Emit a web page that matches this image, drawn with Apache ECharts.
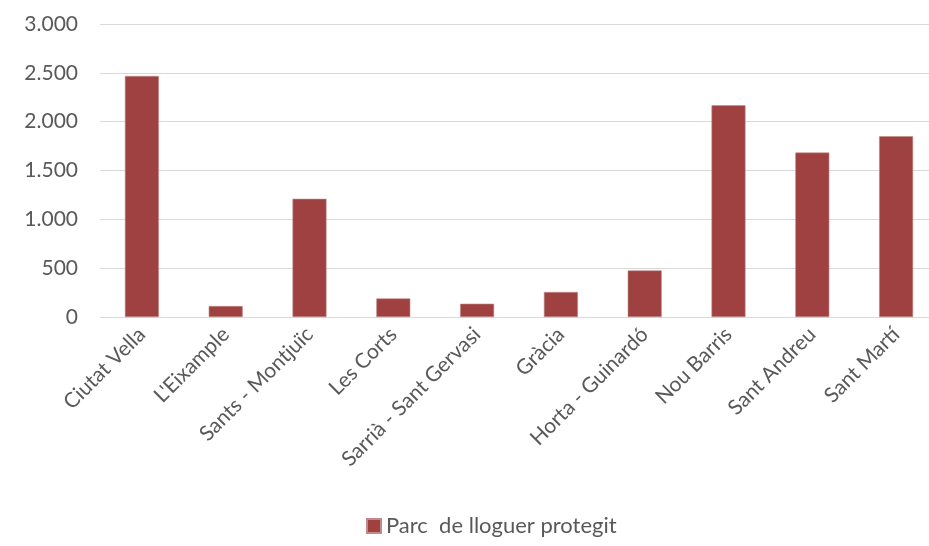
<!DOCTYPE html>
<html>
<head>
<meta charset="utf-8">
<script src="https://cdn.jsdelivr.net/npm/echarts@6/dist/echarts.min.js"></script>
<style>
  html, body { margin: 0; padding: 0; background: #fff; overflow: hidden; }
  #chart { width: 938px; height: 546px; }
</style>
</head>
<body>
<div id="chart"></div>
<script>
const districts = [
  'Ciutat Vella', "L'Eixample", 'Sants - Montjuïc', 'Les Corts', 'Sarrià - Sant Gervasi',
  'Gràcia', 'Horta - Guinardó', 'Nou Barris', 'Sant Andreu', 'Sant Martí'
]
const parcValues = [2468, 112, 1210, 190, 136, 256, 477, 2168, 1684, 1851]
const seriesName = 'Parc  de lloguer protegit'

const textColor = '#595959'
const gridColor = '#d9d9d9'
const barColor = '#9e4140'
const font = 'Lato, Liberation Sans, sans-serif'

const chart = echarts.init(document.getElementById('chart'))

const fmt = (v) => String(v).replace(/\B(?=(\d{3})+(?!\d))/g, '.')

chart.setOption({
  animation: false,
  textStyle: { fontFamily: font },
  grid: { left: 100, top: 24, right: 0, bottom: 229, containLabel: false },
  legend: {
    bottom: 4,
    left: 361,
    itemWidth: 14,
    itemHeight: 14,
    itemGap: 10,
    textStyle: { color: textColor, fontSize: 22, fontFamily: font },
    data: [{ name: seriesName, icon: 'rect' }]
  },
  xAxis: {
    type: 'category',
    data: districts,
    axisLine: { lineStyle: { color: gridColor, width: 1 } },
    axisTick: { show: false },
    axisLabel: {
      rotate: 45,
      interval: 0,
      color: textColor,
      fontSize: 21,
      margin: 14
    }
  },
  yAxis: {
    type: 'value',
    min: 0,
    max: 3000,
    interval: 500,
    axisLine: { show: false },
    axisTick: { show: false },
    splitLine: { lineStyle: { color: gridColor, width: 1 } },
    axisLabel: {
      color: textColor,
      fontSize: 21,
      margin: 22,
      formatter: fmt
    }
  },
  series: [
    {
      name: seriesName,
      type: 'bar',
      data: parcValues,
      barWidth: 34,
      itemStyle: { color: barColor, borderColor: '#c08a8a', borderWidth: 0.6 }
    }
  ]
})
</script>
</body>
</html>
